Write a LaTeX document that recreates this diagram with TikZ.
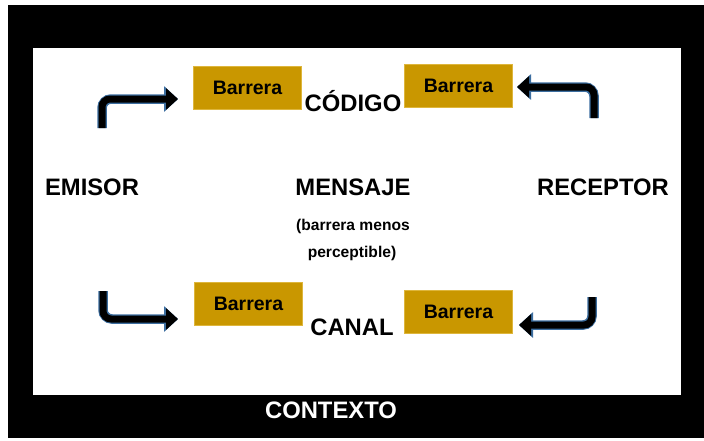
\documentclass[tikz,border=0pt]{standalone}
\usepackage{fontspec}
\setmainfont{Liberation Sans}
\usepackage{tikz}
\usetikzlibrary{arrows.meta, positioning}
\definecolor{barreragold}{RGB}{201,151,0}
\definecolor{barreraedge}{RGB}{222,182,60}
\definecolor{glowblue}{RGB}{60,110,160}

\begin{document}
\begin{tikzpicture}[x=1pt, y=-1pt, barrera/.style={draw=barreraedge,
      fill=barreragold, line width=0.8pt, minimum width=108pt, minimum
      height=43pt, inner sep=0pt, font=\fontsize{19.5}{22}\selectfont\bfseries},
      word/.style={anchor=base, inner sep=0pt,
      font=\fontsize{23.8}{27}\selectfont\bfseries}, note/.style={anchor=base,
      inner sep=0pt, font=\fontsize{15.6}{18}\selectfont\bfseries},
      glow/.style={draw=glowblue, line width=9.5pt, rounded corners=9pt,
      -{Triangle[width=25pt,length=14pt]}}, bent/.style={draw=black, line
      width=7pt, rounded corners=8pt, -{Triangle[width=21pt,length=12pt]}} ]

    % Page and context frame
    \useasboundingbox (0,0) rectangle (704,440);
    \fill[black] (8,5) rectangle (704,438);
    \fill[white] (33,48) rectangle (681,395);
    \node[word, text=white] (contexto) at (331,418) {CONTEXTO};

    % Main labels
    \node[word] (emisor) at (92,195) {EMISOR};
    \node[word] (mensaje) at (353,195) {MENSAJE};
    \node[word] (receptor) at (603,195) {RECEPTOR};
    \node[word] (codigo) at (353,111) {CÓDIGO};
    \node[word] (canal) at (352,335) {CANAL};

    % Note under the message
    \node[note] (nota1) at (353,230) {(barrera menos};
    \node[note] (nota2) at (352,257) {perceptible)};

    % Barriers
    \node[barrera] (bcodA) at (247.5,87.5) {Barrera};
    \node[barrera] (bcodB) at (458.5,86) {Barrera};
    \node[barrera] (bcanA) at (248.5,304) {Barrera};
    \node[barrera] (bcanB) at (458.5,311.5) {Barrera};

    % Bent arrows, ends
    \coordinate (emUp) at (102,128); \coordinate (emUpTip) at (178,99);
    \coordinate (reUp) at (594,118); \coordinate (reUpTip) at (517,87);
    \coordinate (emDn) at (103,291); \coordinate (emDnTip) at (178,319);
    \coordinate (reDn) at (592,297); \coordinate (reDnTip) at (519,325);

    % Bent arrows, blue glow then black body
    \foreach \a/\b in {emUp/emUpTip, reUp/reUpTip, emDn/emDnTip, reDn/reDnTip}
    {\draw[glow] (\a) |- (\b); \draw[bent] (\a) |- (\b);}

\end{tikzpicture}
\end{document}
